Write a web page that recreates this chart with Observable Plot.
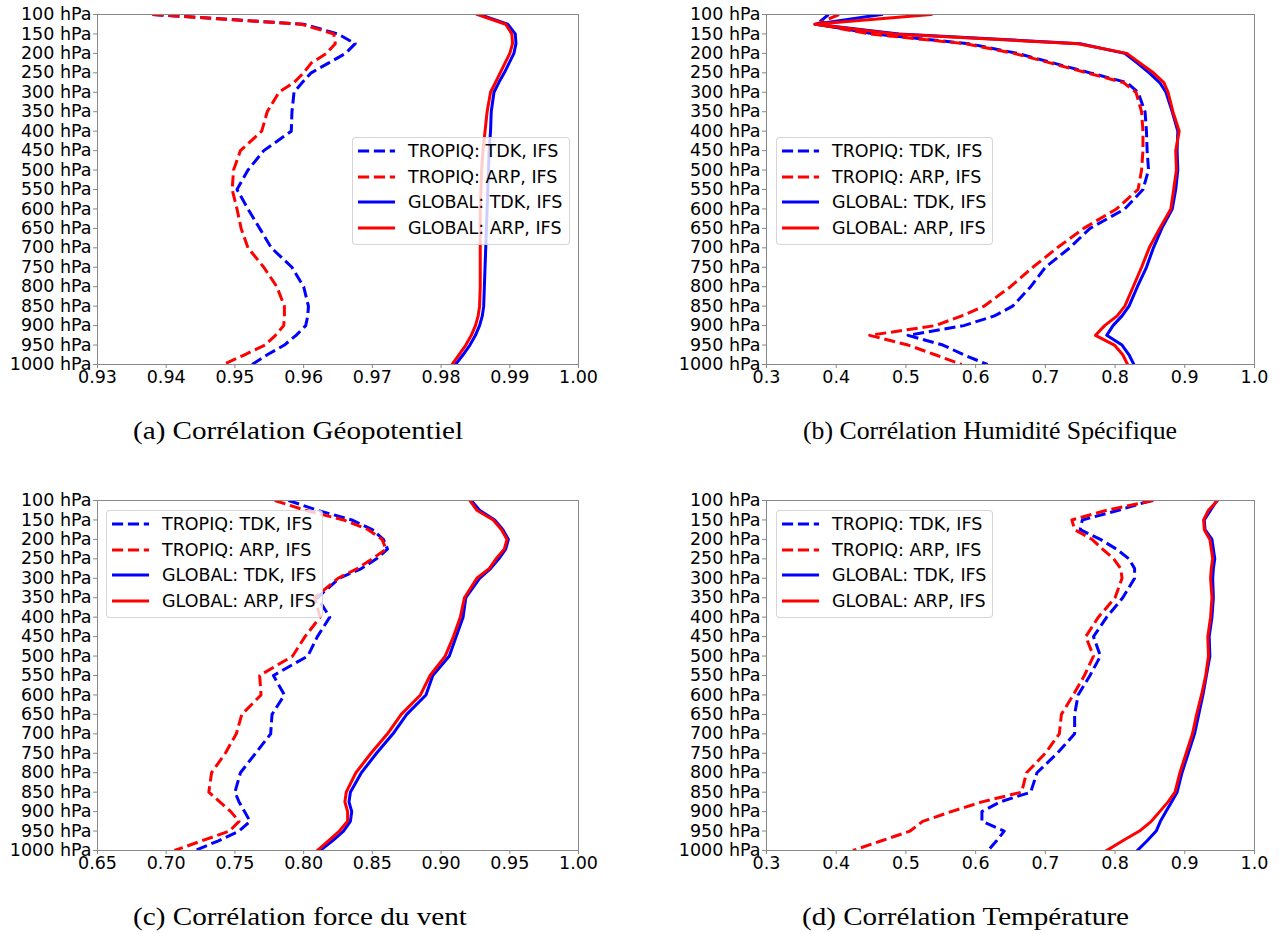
<!DOCTYPE html>
<html>
<head>
<meta charset="utf-8">
<script src="https://cdn.jsdelivr.net/npm/d3@7"></script>
<script src="https://cdn.jsdelivr.net/npm/@observablehq/plot@0.6"></script>
<style>
  html, body { margin: 0; padding: 0; background: #fff; }
  #root { position: relative; width: 1281px; height: 934px; background: #fff; overflow: hidden; }
  .panel { position: absolute; }
  .legend { position: absolute; background: rgba(255,255,255,0.8); border: 1px solid rgba(204,204,204,0.8); border-radius: 4px; box-sizing: border-box; font-family: "DejaVu Sans", sans-serif; font-size: 17.5px; color: #000; }
  .legend .row { position: absolute; left: 0; height: 20px; display: flex; align-items: center; white-space: nowrap; }
  .legend .row svg { margin-left: 5px; }
  .legend .row span { margin-left: 13px; line-height: 20px; }
</style>
</head>
<body>
<div id="root"></div>
<script>
// Pressure levels (hPa) where the curves are sampled
const levels = [100,125,150,175,200,225,250,275,300,350,400,450,500,550,600,650,700,750,800,850,875,900,925,950,975,1000];
const yTicks = [100,150,200,250,300,350,400,450,500,550,600,650,700,750,800,850,900,950,1000];

const seriesNames = ["TROPIQ: TDK, IFS", "TROPIQ: ARP, IFS", "GLOBAL: TDK, IFS", "GLOBAL: ARP, IFS"];

// (a) Corrélation Géopotentiel
const geoTropTDK = [0.938,0.960,0.965,0.9675,0.9661,0.9636,0.9611,0.9598,0.9586,0.9583,0.9582,0.9542,0.9519,0.9503,0.9519,0.9536,0.9553,0.9583,0.9600,0.9607,0.9606,0.9603,0.9589,0.9572,0.9547,0.9525];
const geoTropARP = [0.938,0.9597,0.9644,0.9646,0.9633,0.9611,0.9600,0.9586,0.9564,0.9547,0.9539,0.9508,0.9498,0.9496,0.9503,0.9509,0.9519,0.9542,0.9561,0.9572,0.9572,0.9571,0.9559,0.9544,0.9514,0.9483];
const geoGlobTDK = [0.9856,0.9897,0.9908,0.9909,0.9906,0.9899,0.9892,0.9884,0.9877,0.9873,0.9872,0.9870,0.9869,0.9868,0.9867,0.9866,0.9865,0.9864,0.9863,0.9862,0.9860,0.9856,0.9850,0.9842,0.9832,0.9821];
const geoGlobARP = [0.9853,0.9894,0.9903,0.9904,0.9900,0.9893,0.9886,0.9879,0.9872,0.9867,0.9864,0.9861,0.9859,0.9858,0.9857,0.9857,0.9857,0.9857,0.9857,0.9856,0.9854,0.9850,0.9844,0.9836,0.9826,0.9816];
const geoXTicks = [0.93,0.94,0.95,0.96,0.97,0.98,0.99,1.00];

// (b) Corrélation Humidité Spécifique
const humTropTDK = [0.389,0.372,0.455,0.590,0.660,0.712,0.764,0.817,0.833,0.843,0.845,0.846,0.848,0.840,0.814,0.764,0.735,0.700,0.679,0.653,0.627,0.583,0.503,0.553,0.583,0.617];
const humTropARP = [0.404,0.372,0.448,0.585,0.655,0.708,0.760,0.812,0.830,0.838,0.840,0.840,0.838,0.833,0.802,0.755,0.717,0.682,0.650,0.612,0.580,0.542,0.448,0.503,0.542,0.580];
const humGlobTDK = [0.465,0.370,0.490,0.750,0.814,0.832,0.849,0.864,0.873,0.882,0.890,0.889,0.890,0.887,0.882,0.867,0.855,0.845,0.832,0.820,0.810,0.797,0.788,0.810,0.820,0.827];
const humGlobARP = [0.536,0.369,0.483,0.747,0.817,0.836,0.855,0.870,0.876,0.883,0.892,0.887,0.888,0.884,0.880,0.864,0.849,0.838,0.826,0.814,0.803,0.785,0.772,0.799,0.811,0.818];
const humXTicks = [0.3,0.4,0.5,0.6,0.7,0.8,0.9,1.0];

// (c) Corrélation force du vent
const ventTropTDK = [0.789,0.810,0.835,0.850,0.858,0.861,0.853,0.842,0.826,0.810,0.819,0.810,0.803,0.778,0.786,0.777,0.776,0.765,0.754,0.750,0.753,0.757,0.761,0.753,0.738,0.721];
const ventTropARP = [0.779,0.801,0.829,0.847,0.857,0.860,0.850,0.839,0.825,0.808,0.812,0.801,0.792,0.768,0.769,0.755,0.751,0.743,0.733,0.731,0.739,0.747,0.753,0.746,0.726,0.706];
const ventGlobTDK = [0.922,0.928,0.939,0.945,0.949,0.947,0.942,0.936,0.928,0.918,0.916,0.911,0.906,0.894,0.889,0.875,0.865,0.853,0.842,0.834,0.833,0.835,0.834,0.829,0.821,0.812];
const ventGlobARP = [0.921,0.926,0.938,0.944,0.948,0.946,0.940,0.935,0.926,0.917,0.914,0.909,0.903,0.892,0.885,0.871,0.861,0.849,0.838,0.831,0.830,0.832,0.832,0.826,0.818,0.810];
const ventXTicks = [0.65,0.70,0.75,0.80,0.85,0.90,0.95,1.00];

// (d) Corrélation Température
const tempTropTDK = [0.852,0.805,0.753,0.750,0.779,0.802,0.820,0.828,0.828,0.811,0.788,0.769,0.779,0.764,0.747,0.742,0.742,0.717,0.688,0.679,0.635,0.609,0.609,0.641,0.630,0.618];
const tempTropARP = [0.855,0.788,0.738,0.742,0.767,0.782,0.798,0.808,0.810,0.800,0.776,0.758,0.769,0.756,0.740,0.723,0.720,0.700,0.673,0.666,0.609,0.565,0.524,0.506,0.465,0.424];
const tempGlobTDK = [0.946,0.937,0.928,0.929,0.939,0.941,0.943,0.941,0.940,0.941,0.939,0.935,0.936,0.931,0.926,0.920,0.914,0.905,0.896,0.889,0.881,0.873,0.865,0.859,0.846,0.832];
const tempGlobARP = [0.947,0.934,0.927,0.928,0.936,0.938,0.940,0.938,0.937,0.939,0.937,0.933,0.934,0.930,0.924,0.917,0.911,0.902,0.893,0.886,0.876,0.864,0.852,0.835,0.811,0.788];
const tempXTicks = [0.3,0.4,0.5,0.6,0.7,0.8,0.9,1.0];

const captions = ["(a) Corrélation Géopotentiel", "(b) Corrélation Humidité Spécifique", "(c) Corrélation force du vent", "(d) Corrélation Température"];

const styles = [
  {color: "#0000ff", dash: "11.1,4.8"},
  {color: "#ff0000", dash: "11.1,4.8"},
  {color: "#0000ff", dash: null},
  {color: "#ff0000", dash: null}
];

const panels = [
  {series: [geoTropTDK, geoTropARP, geoGlobTDK, geoGlobARP], xTicks: geoXTicks, fmt: 2, left: 0, top: 0, width: 640, ml: 97, mr: 62,
   legend: {left: 352, top: 137, w: 218, h: 108}, cap: {x: 133, y: 439, w: 330}},
  {series: [humTropTDK, humTropARP, humGlobTDK, humGlobARP], xTicks: humXTicks, fmt: 1, left: 640, top: 0, width: 641, ml: 126, mr: 27,
   legend: {left: 776, top: 137, w: 217, h: 108}, cap: {x: 803, y: 439, w: 374}},
  {series: [ventTropTDK, ventTropARP, ventGlobTDK, ventGlobARP], xTicks: ventXTicks, fmt: 2, left: 0, top: 486, width: 640, ml: 97, mr: 62,
   legend: {left: 106, top: 510, w: 217, h: 108}, cap: {x: 133, y: 925, w: 334}},
  {series: [tempTropTDK, tempTropARP, tempGlobTDK, tempGlobARP], xTicks: tempXTicks, fmt: 1, left: 640, top: 486, width: 641, ml: 126, mr: 27,
   legend: {left: 776, top: 510, w: 217, h: 108}, cap: {x: 802, y: 925, w: 327}}
];

const root = document.getElementById("root");

panels.forEach(pn => {
  const lineMarks = pn.series.map((arr, i) => {
    const data = levels.map((p, j) => ({p, v: arr[j]}));
    const st = styles[i];
    const opts = {x: "v", y: "p", stroke: st.color, strokeWidth: 3, clip: true, strokeLinejoin: "round", strokeLinecap: st.dash ? "butt" : "square"};
    if (st.dash) opts.strokeDasharray = st.dash;
    return Plot.line(data, opts);
  });
  const xd = [pn.xTicks[0], pn.xTicks[pn.xTicks.length - 1]];
  const chart = Plot.plot({
    width: pn.width,
    height: 400,
    marginLeft: pn.ml,
    marginRight: pn.mr,
    marginTop: 14,
    marginBottom: 36,
    style: {fontFamily: "DejaVu Sans, sans-serif", fontSize: "17.5px", color: "#000", background: "transparent", overflow: "visible"},
    x: {domain: xd, label: null},
    y: {domain: [100, 1000], reverse: true, label: null},
    marks: [
      ...lineMarks,
      Plot.frame({stroke: "#888", strokeWidth: 1}),
      Plot.axisX({ticks: pn.xTicks, tickFormat: d => d.toFixed(pn.fmt), tickSize: 4, tickPadding: 2, stroke: "#888", fill: "#000", label: null, fontSize: 17.5}),
      Plot.axisY({ticks: yTicks, tickFormat: d => `${d} hPa`, tickSize: 4, tickPadding: 2, stroke: "#888", fill: "#000", label: null, fontSize: 17.5})
    ]
  });
  chart.classList.add("panel");
  chart.style.left = pn.left + "px";
  chart.style.top = pn.top + "px";
  root.appendChild(chart);

  // legend
  const lg = document.createElement("div");
  lg.className = "legend";
  lg.style.left = pn.legend.left + "px";
  lg.style.top = pn.legend.top + "px";
  lg.style.width = pn.legend.w + "px";
  lg.style.height = pn.legend.h + "px";
  const rowOffsets = [14, 39.5, 65, 90.5];
  seriesNames.forEach((name, i) => {
    const row = document.createElement("div");
    row.className = "row";
    row.style.top = (rowOffsets[i] - 10 - 1) + "px";
    const st = styles[i];
    row.innerHTML = `<svg width="37" height="20"><line x1="0" x2="37" y1="10" y2="10" stroke="${st.color}" stroke-width="3" ${st.dash ? `stroke-dasharray="${st.dash}"` : ""}/></svg><span>${name}</span>`;
    lg.appendChild(row);
  });
  root.appendChild(lg);
});

// captions
const svgNS = "http://www.w3.org/2000/svg";
const capSvg = document.createElementNS(svgNS, "svg");
capSvg.setAttribute("width", 1281);
capSvg.setAttribute("height", 934);
capSvg.style.position = "absolute";
capSvg.style.left = "0px";
capSvg.style.top = "0px";
capSvg.style.pointerEvents = "none";
panels.forEach((pn, i) => {
  const t = document.createElementNS(svgNS, "text");
  t.setAttribute("x", pn.cap.x);
  t.setAttribute("y", pn.cap.y);
  t.setAttribute("textLength", pn.cap.w);
  t.setAttribute("lengthAdjust", "spacingAndGlyphs");
  t.setAttribute("font-family", "Liberation Serif, serif");
  t.setAttribute("font-size", "25");
  t.setAttribute("fill", "#000");
  t.textContent = captions[i];
  capSvg.appendChild(t);
});
root.appendChild(capSvg);
</script>
</body>
</html>
